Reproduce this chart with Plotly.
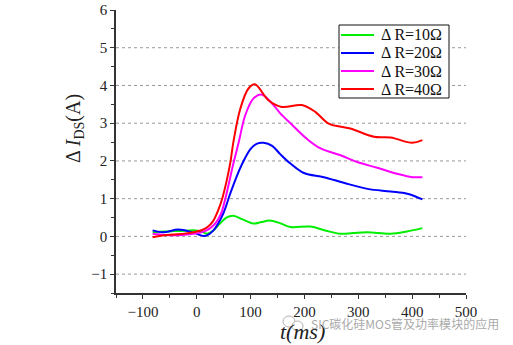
import plotly.graph_objects as go

# ---- data ----
names = ["Δ R=10Ω", "Δ R=20Ω", "Δ R=30Ω", "Δ R=40Ω"]
colors = ["#00ee00", "#0000ff", "#ff00ff", "#ff0000"]

x_r10 = [-82, -60, -43, -20, -6, 10, 19, 30, 43, 55, 68, 85, 105, 120, 135, 155, 174, 211, 240, 267, 290, 317, 360, 390, 419]
y_r10 = [0.11, 0.13, 0.14, 0.15, 0.16, 0.12, 0.07, 0.15, 0.34, 0.50, 0.55, 0.45, 0.34, 0.38, 0.42, 0.35, 0.25, 0.26, 0.15, 0.07, 0.09, 0.11, 0.07, 0.13, 0.22]

x_r20 = [-82, -62, -34, -6, 15, 31, 49, 62, 75, 86, 100, 112, 124, 140, 155, 174, 199, 236, 273, 317, 360, 391, 419]
y_r20 = [0.16, 0.11, 0.18, 0.10, 0.01, 0.16, 0.60, 1.13, 1.62, 1.97, 2.32, 2.46, 2.48, 2.40, 2.18, 1.93, 1.68, 1.57, 1.42, 1.26, 1.19, 1.13, 0.98]

x_r30 = [-82, -60, -40, -20, 0, 15, 25, 35, 45, 53, 68, 78, 90, 105, 120, 146, 155, 174, 205, 230, 267, 298, 335, 372, 400, 419]
y_r30 = [0.07, 0.04, 0.03, 0.05, 0.08, 0.14, 0.22, 0.35, 0.60, 1.0, 1.93, 2.5, 3.21, 3.65, 3.76, 3.42, 3.26, 3.0, 2.58, 2.33, 2.15, 1.97, 1.82, 1.66, 1.57, 1.57]

x_r40 = [-82, -60, -43, -20, -6, 10, 20, 30, 40, 48, 62, 68, 81, 96, 108, 133, 158, 195, 220, 245, 285, 329, 360, 400, 419]
y_r40 = [-0.02, 0.03, 0.05, 0.08, 0.11, 0.17, 0.25, 0.40, 0.70, 1.04, 1.93, 2.5, 3.39, 3.92, 4.03, 3.61, 3.43, 3.48, 3.30, 2.99, 2.86, 2.64, 2.62, 2.48, 2.55]

xs = [x_r10, x_r20, x_r30, x_r40]
ys = [y_r10, y_r20, y_r30, y_r40]

x_ticks = [-100, 0, 100, 200, 300, 400, 500]
y_ticks = [-1, 0, 1, 2, 3, 4, 5, 6]
grid_y = [-1, 0, 1, 2, 3, 4, 5]
x_range = [-150, 500]
y_range = [-1.5, 6]

SERIF = "Liberation Serif, Times New Roman, serif"

# layout geometry (pixels in the 513x345 canvas)
W, H = 513, 345
PL, PR, PT, PB = 116, 466, 10, 293


def px(xp):
    return (xp - PL) / (PR - PL)


def py(yp):
    return (PB - yp) / (PB - PT)


fig = go.Figure()
for n, c, x, y in zip(names, colors, xs, ys):
    fig.add_trace(go.Scatter(x=x, y=y, mode="lines", name=n, showlegend=False,
                             line=dict(color=c, width=2, shape="spline", smoothing=1.0)))

for g in grid_y:
    fig.add_shape(type="line", xref="paper", x0=0, x1=1, yref="y", y0=g, y1=g,
                  line=dict(color="#999999", width=1, dash="dot"), layer="below")

axis_common = dict(showline=True, linecolor="#333333", linewidth=1.5, ticks="outside",
                   ticklen=4, tickcolor="#333333", tickwidth=1.2, showgrid=False, zeroline=False,
                   automargin=False,
                   tickfont=dict(family=SERIF, size=15, color="#222222"))

fig.update_xaxes(range=x_range, tickvals=x_ticks,
                 minor=dict(dtick=50, tick0=0, ticks="outside", ticklen=3, tickcolor="#333333"),
                 **axis_common)
fig.update_yaxes(range=y_range, tickvals=y_ticks,
                 minor=dict(dtick=0.5, tick0=0, ticks="outside", ticklen=3, tickcolor="#333333"),
                 **axis_common)

# axis titles
fig.add_annotation(xref="paper", yref="paper", x=px(74), y=py(129),
                   text="Δ <i>I</i><sub>DS</sub>(A)", textangle=-90, showarrow=False,
                   font=dict(family=SERIF, size=20, color="#222222"),
                   xanchor="center", yanchor="middle")
fig.add_annotation(xref="paper", yref="paper", x=px(302), y=py(331),
                   text="<i>t(ms)</i>", showarrow=False,
                   font=dict(family=SERIF, size=22, color="#222222"),
                   xanchor="center", yanchor="middle")
# watermark (icon approximated by two outlined bubbles + text)
fig.add_shape(type="circle", xref="paper", yref="paper", x0=px(283), x1=px(295),
              y0=py(327), y1=py(316), line=dict(color="#b0b0b0", width=1))
fig.add_shape(type="circle", xref="paper", yref="paper", x0=px(292), x1=px(303),
              y0=py(331), y1=py(321), line=dict(color="#b0b0b0", width=1), fillcolor="white")
fig.add_annotation(xref="paper", yref="paper", x=px(309), y=py(324),
                   text="SIC碳化硅MOS管及功率模块的应用", showarrow=False,
                   font=dict(family="Noto Sans CJK SC, sans-serif", size=12, color="#aaaaaa"),
                   xanchor="left", yanchor="middle")

# legend box (drawn in paper space)
LX0, LX1, LY0, LY1 = 339, 449, 25, 98
fig.add_shape(type="rect", xref="paper", yref="paper", x0=px(LX0), x1=px(LX1),
              y0=py(LY1), y1=py(LY0), line=dict(color="#111111", width=1),
              fillcolor="white", layer="above")
row_y = [35, 53, 71, 89]
for n, c, ry in zip(names, colors, row_y):
    fig.add_shape(type="line", xref="paper", yref="paper", x0=px(341), x1=px(374),
                  y0=py(ry), y1=py(ry), line=dict(color=c, width=2), layer="above")
    fig.add_annotation(xref="paper", yref="paper", x=px(379), y=py(ry), text=n,
                       showarrow=False, xanchor="left", yanchor="middle",
                       font=dict(family=SERIF, size=16, color="#111111"))

fig.update_layout(
    width=W, height=H,
    margin=dict(l=PL, r=W - PR, t=PT, b=H - PB),
    plot_bgcolor="white", paper_bgcolor="white",
    showlegend=False,
)

fig.write_html("out.html")
